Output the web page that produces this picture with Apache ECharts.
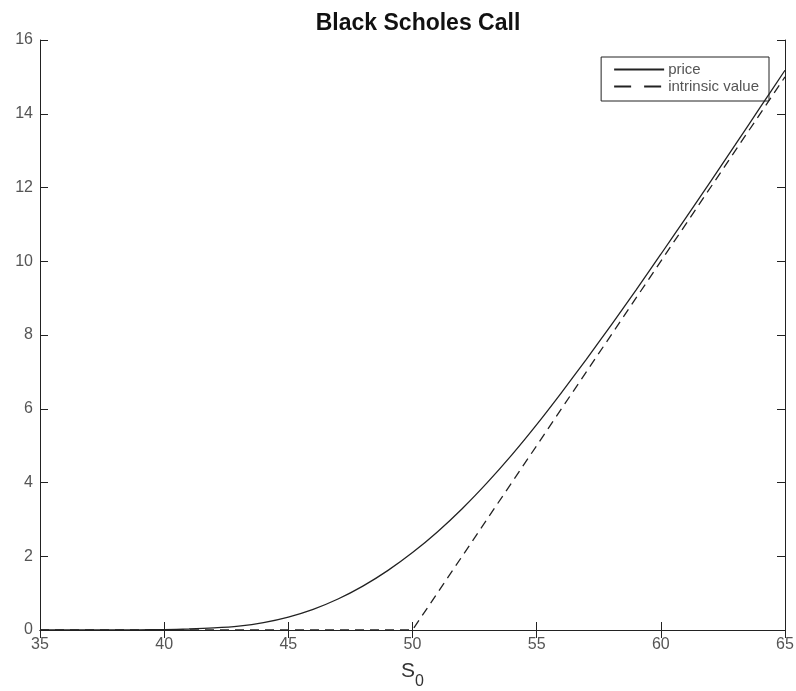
<!DOCTYPE html>
<html><head><meta charset="utf-8">
<script src="https://cdn.jsdelivr.net/npm/echarts@6/dist/echarts.min.js"></script>
<style>html,body{margin:0;padding:0;background:#fff}#c{width:796px;height:691px}</style>
</head><body><div id="c"></div>
<script>
const S0 = [35,36,37,38,39,40,41,42,43,44,45,46,47,48,49,50,51,52,53,54,55,56,57,58,59,60,61,62,63,64,65];
const price = [0,0,0.001,0.003,0.006,0.012,0.027,0.055,0.105,0.2,0.35,0.56,0.84,1.19,1.61,2.1,2.66,3.29,3.99,4.75,5.57,6.44,7.34,8.27,9.22,10.19,11.17,12.16,13.16,14.17,15.18];
const intrinsicX = [35,50,65];
const intrinsic = [0,0,15];
const xTicks = [35,40,45,50,55,60,65];
const yTicks = [0,2,4,6,8,10,12,14,16];

const chart = echarts.init(document.getElementById('c'));
const font = 'Liberation Sans, Arial, sans-serif';
const axisCommon = {
  axisLine:{show:true,lineStyle:{color:'#222',width:1}},
  axisTick:{show:true,inside:true,length:8,lineStyle:{color:'#222'}},
  splitLine:{show:false}
};
chart.setOption({
  animation:false,
  backgroundColor:'#fff',
  title:{text:'Black Scholes Call',left:413,textAlign:'center',top:7,
    textStyle:{fontFamily:font,fontSize:23,fontWeight:'bold',color:'#111'}},
  legend:{
    right:27,top:57,orient:'vertical',itemWidth:50,itemHeight:14,itemGap:2,
    padding:[5,10,7,12],borderColor:'#222',borderWidth:1,borderRadius:0,
    itemStyle:{opacity:0},
    textStyle:{fontFamily:font,fontSize:15,color:'#555',padding:[0,0,0,-1]},
    data:[{name:'price'},{name:'intrinsic value',lineStyle:{type:[17,13]}}]
  },
  grid:{left:40,right:11,top:40,bottom:61,containLabel:false,outerBoundsMode:'none'},
  xAxis:[
    Object.assign({type:'value',min:35,max:65,interval:5,position:'bottom',
      name:'S{sub|0}',nameLocation:'middle',nameGap:22,
      nameTextStyle:{fontFamily:font,fontSize:21,color:'#333',
        rich:{sub:{fontFamily:font,fontSize:16,color:'#333',verticalAlign:'bottom',padding:[22,0,0,0]}}},
      axisLabel:{fontFamily:font,fontSize:16,color:'#555',margin:7,
        formatter:v=>xTicks.includes(v)?String(v):''}},axisCommon),
    Object.assign({type:'value',min:35,max:65,interval:5,position:'top',axisLabel:{show:false}},axisCommon)
  ],
  yAxis:[
    Object.assign({type:'value',min:0,max:16,interval:2,position:'left',
      axisLabel:{fontFamily:font,fontSize:16,color:'#555',margin:7,
        formatter:v=>yTicks.includes(v)?String(v):''}},axisCommon),
    Object.assign({type:'value',min:0,max:16,interval:2,position:'right',axisLabel:{show:false}},axisCommon)
  ],
  series:[
    {name:'price',type:'line',smooth:0.3,symbol:'none',showSymbol:false,
      lineStyle:{color:'#222',width:1.3},itemStyle:{color:'#222'},
      data:S0.map((x,i)=>[x,price[i]])},
    {name:'intrinsic value',type:'line',symbol:'none',showSymbol:false,
      lineStyle:{color:'#222',width:1.3,type:[9,6]},itemStyle:{color:'#222'},
      data:intrinsicX.map((x,i)=>[x,intrinsic[i]])}
  ]
});
</script></body></html>
